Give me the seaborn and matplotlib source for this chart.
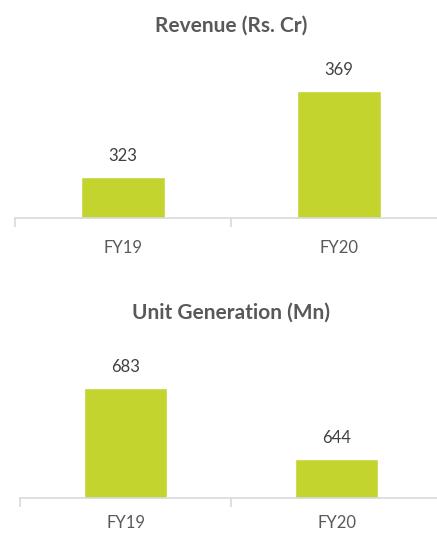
import matplotlib
matplotlib.use("Agg")
import matplotlib.pyplot as plt
import seaborn as sns
import pandas as pd

# values
years = ["FY19", "FY20"]
revenue = [323, 369]
units = [683, 644]
titles = ["Revenue (Rs. Cr)", "Unit Generation (Mn)"]

bar_color = "#c4d42f"
axis_color = "#d9d9d9"
text_color = "#404040"

sns.set_style("white")
plt.rcParams['font.family'] = ['Lato', 'DejaVu Sans']

W, H = 437, 533
fig = plt.figure(figsize=(W / 100, H / 100), dpi=100)


def px_axes(left, right, top, bottom):
    return fig.add_axes([left / W, 1 - bottom / H, (right - left) / W, (bottom - top) / H])


def draw(ax, vals, ymin, ppu, title, title_y, tick_pad):
    df = pd.DataFrame({"year": years, "value": vals})
    sns.barplot(data=df, x="year", y="value", color=bar_color, width=0.39,
                saturation=1, ax=ax)
    h = ax.get_position().height * H
    ax.set_ylim(ymin, ymin + h / ppu)
    ax.set_xlim(-0.5, 1.5)
    sns.despine(ax=ax, left=True)
    ax.spines["bottom"].set_color(axis_color)
    ax.spines["bottom"].set_linewidth(1.2)
    ax.set_yticks([])
    ax.set_xlabel("")
    ax.set_ylabel("")
    # divider marks between categories
    ax.set_xticks([-0.5, 0.5, 1.5], minor=True)
    ax.tick_params(axis="x", which="minor", bottom=True, length=6.5, width=1.2,
                   color=axis_color, direction="out")
    ax.tick_params(axis="x", which="major", length=0, pad=tick_pad, labelsize=12,
                   labelcolor="#595959")
    ax.bar_label(ax.containers[0], fmt="%d", padding=9, fontsize=12, color=text_color)
    pos = ax.get_position()
    fig.text(pos.x0 + pos.width / 2, 1 - title_y / H, title, ha="center", va="center",
             fontsize=15, fontweight="bold", color="#595959")


ax1 = px_axes(15, 447, 60, 218)
ax2 = px_axes(20, 442, 345, 498)

draw(ax1, revenue, 301, 1.87, titles[0], 26, 16)
draw(ax2, units, 622.5, 1.82, titles[1], 313, 12)

fig.savefig("out.png", dpi=100)
